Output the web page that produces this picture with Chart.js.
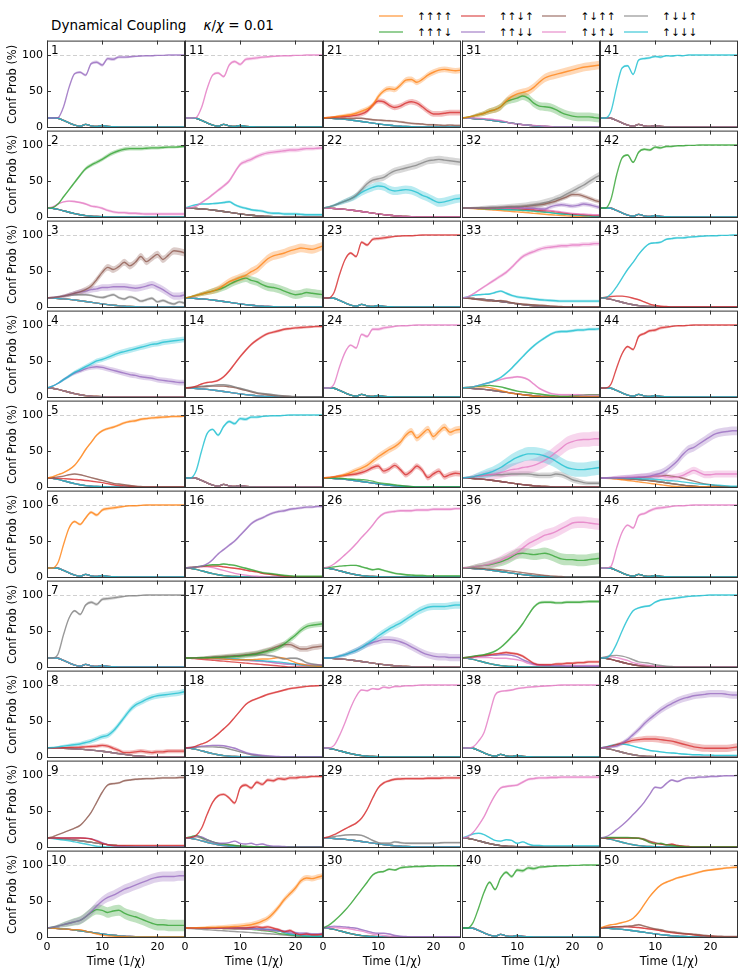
<!DOCTYPE html>
<html>
<head>
<meta charset="utf-8">
<script src="https://cdn.jsdelivr.net/npm/chart.js@4.4.1/dist/chart.umd.min.js"></script>
<style>
  body { margin: 0; background: #fff; }
  #page { position: relative; width: 747px; height: 978px; overflow: hidden; font-family: 'DejaVu Sans', sans-serif; }
  #page canvas { position: absolute; }
  #title { position: absolute; left: 51px; top: 17px; font-size: 13.5px; line-height: 16px; white-space: pre; color: #000; }
  .lg-line { position: absolute; width: 24px; height: 2px; }
  .lg-text { position: absolute; font-size: 10.5px; line-height: 14px; color: #000; }
</style>
</head>
<body>
<div id="page">
  <div id="title">Dynamical Coupling    <i>κ</i>/<i>χ</i> = 0.01</div>
</div>
<script>
// time grid (1/chi) and configuration labels
const times = [0,1,2,3,4,5,6,7,8,9,10,11,12,13,14,15,16,17,18,19,20,21,22,23,24,25];
const seriesLabels = ['↑↑↑↑','↑↑↑↓','↑↑↓↑','↑↑↓↓','↑↓↑↑','↑↓↑↓','↑↓↓↑','↑↓↓↓'];
const seriesColors = ['#ff7f0e','#2ca02c','#d62728','#9467bd','#8c564b','#e377c2','#7f7f7f','#17becf'];
const xTicks = [0, 10, 20];
const yTicks = [0, 50, 100];

// typical background decays
const decayWavy  = [12.5,12.5,12,9,5.5,2.5,1,3.5,1.5,0.5,2,0.5,0.3,0,0,0,0,0,0,0,0,0,0,0,0,0];
const decayQuick = [12.5,12,10.5,8.5,6.5,4.5,3,1.8,1,0.5,0.2,0,0,0,0,0,0,0,0,0,0,0,0,0,0,0];
const decayMid   = [12.5,12.2,11.8,11.2,10.5,9.6,8.6,7.5,6.4,5.3,4.2,3.2,2.3,1.5,0.9,0.5,0.2,0,0,0,0,0,0,0,0,0];
const decaySlow  = [12.5,12.4,12.2,12,11.7,11.3,10.8,10.2,9.5,8.7,7.8,6.8,5.7,4.6,3.5,2.5,1.6,0.9,0.4,0.1,0,0,0,0,0,0];
// how the shaded spread grows with time (fraction of each curve's final spread)
const bandRamp = [0,0.15,0.3,0.45,0.55,0.65,0.72,0.78,0.83,0.87,0.9,0.92,0.94,0.95,0.96,0.97,0.98,0.98,0.99,0.99,1,1,1,1,1,1];

// per panel: [series index, spread, values]; other series follow `rest`
const panel01 = { rest: decayWavy, curves: [
  [3, 2.5, [12.5,12.5,13,28,55,74,76,72,88,90,86,95,94,97,97,97.5,98,98.5,99,99,99.5,99.5,100,100,100,100]] ] };
const panel02 = { rest: decayQuick, curves: [
  [1, 3, [12.5,13,18,28,38,48,58,67,72,76,80,85,89,92,94,95,95,95,95.5,96,96,96.5,97,97,97.5,98]],
  [5, 2, [12.5,14,18,21,22,21.5,20,18,15,14,12,9,7,6,6,5,5,4.5,4,4,4,4,4,4,4,4]] ] };
const panel03 = { rest: decayMid, curves: [
  [4, 5, [12.5,13,14,15,17,19,21,24,29,38,48,55,52,56,62,57,62,70,63,68,73,66,72,78,77,75]],
  [3, 5, [12.5,13,14,15,17,19,21,22,24,25,27,27,28,28,28,27,26,27,29,31,28,24,19,15,15,17]],
  [6, 2, [12.5,13,14,15,16,17,17,17,16,14,13,15,17,13,11,14,12,8,10,12,7,9,6,4,7,5]] ] };
const panel04 = { rest: decayQuick, curves: [
  [7, 4, [12.5,15,19,24,29,34,38,42,46,50,52,55,58,61,63,65,67,69,71,73,74,76,77,78,79,80]],
  [3, 4, [12.5,15,19,24,29,33,36,39,41,42,41,39,37,35,33,31,30,28,27,26,24,23,22,21,20,20]] ] };
const panel05 = { rest: decayQuick, curves: [
  [0, 2, [12.5,14,17,20,24,30,40,52,62,72,78,81,83,86,89,91,92,94,95,96,96.5,97,97.5,98,98,98.5]],
  [4, 1, [12.5,13,14,15,17,18,17,15,13,11,9,7,5,4,3,2,1,0.5,0,0,0,0,0,0,0,0]],
  [2, 0.5, [12.5,12.5,12,11.5,11,10.5,10,9,8,7,6,4.5,3,2,1.5,1,0.5,0,0,0,0,0,0,0,0,0]] ] };
const panel06 = { rest: decayWavy, curves: [
  [0, 2.5, [12.5,12.5,20,45,68,77,73,82,90,86,93,95,96,97,98,99,99,99.5,100,100,100,100,100,100,100,100]] ] };
const panel07 = { rest: decayWavy, curves: [
  [6, 2.5, [12.5,12.5,18,45,68,78,73,86,90,87,94,95,96,97,98,99,99,99.5,100,100,100,100,100,100,100,100]] ] };
const panel08 = { rest: decaySlow, curves: [
  [7, 4, [12.5,13,14,15,16,17,18,20,22,25,28,30,36,45,55,65,72,76,80,83,85,86,87,88,89,91]],
  [2, 3, [12.5,12.5,12.6,12.7,13,13,13.5,14,14.5,15,16,15,12,9,6,6,7,8,7,6,7,7,8,8,8,8]] ] };
const panel09 = { rest: decayMid, curves: [
  [4, 1.5, [12.5,14,17,20,23,26,30,38,48,62,76,86,88,89,92,93,94,94.5,95,95,95.5,96,96,96,96.5,96.5]],
  [2, 0.8, [12.5,12.5,12.5,12.5,12.5,12.5,12.5,12,11,8,5,3,2,2,2,2,2,2,2,2,2,2,2,2,2,2]],
  [3, 0.5, [12.5,12.5,12.5,12.5,12.5,12.5,12.5,12,11,9,6,3,1.5,1,0.5,0,0,0,0,0,0,0,0,0,0,0]],
  [7, 0, [12.5,11.5,10.5,9.5,8.5,7,5.5,4,2.5,1,0.5,0,0,0,0,0,0,0,0,0,0,0,0,0,0,0]] ] };
const panel10 = { rest: decayMid, curves: [
  [3, 7, [12.5,13.5,15,17,19,21,23,28,35,43,50,55,58,62,66,69,72,75,78,81,83,84,84,84,85,85]],
  [1, 8, [12.5,13.5,15,17,19,21,23,28,34,38,37,34,36,37,33,30,28,25,22,19,17,17,16,16,16,16]],
  [0, 0, [12.5,12,11.5,11,10.5,10,10,8,6,4,2.5,1.5,1,0.5,0.3,0,0,0,0,0,0,0,0,0,0,0]] ] };
const panel11 = { rest: decayWavy, curves: [
  [5, 2.5, [12.5,12.5,13,27,53,72,75,70,86,91,87,94,95,96,97,97.5,98,98.5,99,99,99.5,99.5,100,100,100,100]] ] };
const panel12 = { rest: decayMid, curves: [
  [5, 3, [12.5,13,15,20,25,31,37,43,50,62,73,77,80,84,87,89,90,91,92,93,93,94,95,95,95.5,96]],
  [7, 2, [12.5,15,17,18,18,18.5,19,20,21,17,14,12,10,9,8,6,5,5,4,4,4,3.5,3,3,3,3]] ] };
const panel13 = { rest: decayMid, curves: [
  [0, 6, [12.5,14,16,18,20,22,25,30,35,38,41,44,49,53,60,67,71,73,75,78,80,82,81,80,82,85]],
  [1, 6, [12.5,14,16,18,20,22,24,27,31,35,38,40,37,35,31,28,27,25,22,19,17,18,20,19,18,17]] ] };
const panel14 = { rest: decayMid, curves: [
  [2, 2, [12.5,13,15,18,20,21,23,28,36,46,56,65,73,79,84,88,90,92,94,95,96,96.5,97,97.5,98,98]],
  [6, 1, [12.5,13,14,15,15.5,16,17,17,16,14,12,10,8,6,5,4,3,2,1.5,1,0.5,0,0,0,0,0]],
  [4, 1, [12.5,13,13.5,14,14.5,15,15,15,14,13,11,9,7,5,4,3,2,1.5,1,0.5,0,0,0,0,0,0]] ] };
const panel15 = { rest: decayWavy, curves: [
  [7, 2.5, [12.5,12.5,22,50,74,80,72,84,91,88,95,94,97,97,98,98.5,99,99,99.5,100,100,100,100,100,100,100]] ] };
const panel16 = { rest: decayQuick, curves: [
  [3, 2, [12.5,13,14,15,18,24,32,38,44,50,58,66,74,79,82,86,89,91,92,94,95,96,97,97,98,98]],
  [1, 1.5, [12.5,13,14,15,16,17,17,18,17,16,14,12,10,8,6,5,4,3,2,1.5,1,1,1,1,1,1]],
  [2, 1, [12.5,13,14,14.5,15,15,15,14,13,12,11,9.5,8,7,5,4,3,2,1,0.5,0,0,0,0,0,0]],
  [5, 0.5, [12.5,13,13.5,14,14,13,11,9,7,5,3.5,2.5,1.5,1,0.5,0,0,0,0,0,0,0,0,0,0,0]] ] };
const panel17 = { rest: null, curves: [
  [1, 4, [12.5,12.5,12.6,12.7,12.8,13,13.2,13.5,14,14.5,15,16,17,18,20,22,24,27,32,38,44,51,56,58,59,60]],
  [4, 4, [12.5,12.5,12.6,12.8,13,13.5,14,14.5,15,15.5,16,17,18,19,21,23,26,29,31,31,28,25,25,27,28,29]],
  [6, 1.5, [12.5,12.5,12.6,12.8,13,13.2,13.5,14,14.5,15,15.5,16,16.5,17,17,16,15,13,11,12,12,10,6,4,3,2]],
  [0, 0, [12.5,12.4,12.3,12.2,12,11.8,11.5,11,10.5,10,10,10,10,10.5,11,11,12,13,12,9,6,4,2.5,1.5,1,0.5]],
  [7, 0, [12.5,12.5,12.4,12.3,12.2,12,11.8,11.5,11.2,11,10.5,10,9.5,9,8.5,8,7.5,7,6,5,4,3,2,1.5,1,1]],
  [5, 0, [12.5,12.4,12.2,12,11.8,11.5,11.2,11,10.5,10,9.5,9,8.5,8,7.5,7,6,5.5,5,4.5,4,3.5,3,3,3,3]],
  [3, 0, [12.5,12.4,12.3,12.2,12,11.8,11.5,11.2,11,10.5,10,9.5,9,8.5,8,7,6,5,4,3.5,3,2.5,2,2,2,2]],
  [2, 0, [12.5,12,11.3,10.6,10,9.3,8.6,8,7.3,6.6,6,5.3,4.6,4,3.3,2.6,2,1.3,0.6,0,0,0,0,0,0,0]] ] };
const panel18 = { rest: decayQuick, curves: [
  [2, 1.5, [12.5,13,15,18,21,26,32,39,46,55,64,73,78,81,84,87,89,91,93,95,96,97,98,98.5,99,99.5]],
  [3, 1.5, [12.5,13,14,15,15.5,16,16,15.5,14,12,9,6,4,3,2,1.5,1,0.5,0,0,0,0,0,0,0,0]],
  [6, 1, [12.5,13,13.5,14,14,14,13.5,13,11,9,7,5,3,2,1,0.5,0,0,0,0,0,0,0,0,0,0]] ] };
const panel19 = { rest: decayQuick, curves: [
  [2, 2.5, [12.5,13,16,26,45,62,71,73,68,61,82,86,82,90,87,93,92,95,94,96,96,97,97,98,98,98]],
  [3, 1, [12.5,13,15,14,10,7,5,5,6,8,5,4,5,3,4,2,1,1,0.5,0,0,0,0,0,0,0]],
  [1, 0, [12.5,14,16,13,10,7,5,4,3,2,1.5,1,0.5,0,0,0,0,0,0,0,0,0,0,0,0,0]],
  [6, 0, [12.5,13.5,14,12,9,7,5,4,3,2,1,0.5,0,0,0,0,0,0,0,0,0,0,0,0,0,0]] ] };
const panel20 = { rest: null, curves: [
  [0, 4, [12.5,12.6,12.7,12.8,13,13.2,13.4,13.6,14,14.4,15,16,17,19,22,26,33,42,52,60,68,78,82,81,83,85]],
  [2, 2, [12.5,12.5,12.5,12.5,12.5,12.5,12.5,12.5,12.5,12.5,12.5,12.5,13,14,13,14,12,10,7,9,5,3,4,3,3,4]],
  [3, 1.5, [12.5,12.5,12.5,12.5,12.5,12.5,12.5,12.5,12.5,12.5,12.5,12,12,11.5,11,10.5,10,9,8,7,6,5,5,4,4,5]],
  [7, 0, [12.5,12.5,12.5,12.5,12.5,12.5,12.5,12.5,12.5,12.3,12.2,12,11.8,11.5,11,10.5,9.5,8,6,4,3,2,1.5,1,1,1]],
  [5, 0, [12.5,12.5,12.4,12.3,12.2,12.1,12,12,11.8,11.6,11.4,11.2,11,10.5,10,9.5,9,8,7,5,4,3,3,3,3,3]],
  [4, 0, [12.5,12.5,12.4,12.3,12.2,12.1,12,11.8,11.6,11.4,11.2,11,10.8,10.5,10,9.5,9,8,7,5,4,3,3,2.5,2.5,2.5]],
  [1, 0, [12.5,12.5,12.4,12.3,12.2,12.1,12,11.8,11.6,11.4,11.2,11,10.5,10,9,8,7,5,4,3,2,1.5,1,1,1,1]],
  [6, 0, [12.5,11.5,11,10.5,10,9.5,9,8.5,8,7.5,7,6.5,6,5.5,5,4.5,4,3.3,2.6,1.9,1.2,0.6,0,0,0,0]] ] };
const panel21 = { rest: decayMid, curves: [
  [0, 4, [12.5,13,14,15,16,17,19,22,25,30,42,50,53,52,58,65,66,62,66,72,76,79,80,79,78,79]],
  [2, 4, [12.5,13,13.5,14,14.5,15,16,18,22,30,36,35,30,27,29,33,35,33,28,22,18,18,19,20,20,20]],
  [4, 1.5, [12.5,12.4,12.3,12.2,12,11.8,12,12,11,10,9.5,9,8.5,8,7,6,5,4.5,4,3,3,2.5,2,2.5,2,2]] ] };
const panel22 = { rest: decayMid, curves: [
  [6, 5, [12.5,14,16,19,22,25,30,38,46,51,53,55,60,64,66,68,70,72,75,78,79,80,79,78,77,76]],
  [7, 6, [12.5,14,16,19,22,25,29,34,38,41,43,42,38,36,37,38,37,34,30,27,23,20,21,23,25,26]] ] };
const panel23 = { rest: decayWavy, curves: [
  [2, 2.5, [12.5,12.5,20,45,66,75,70,90,86,94,95,96,97,98,98.5,99,99,99.5,100,100,100,100,100,100,100,100]] ] };
const panel24 = { rest: decayWavy, curves: [
  [5, 2.5, [12.5,12.5,18,42,62,72,68,87,84,94,94,96,97,98,99,99,99.5,100,100,100,100,100,100,100,100,100]] ] };
const panel25 = { rest: decayMid, curves: [
  [0, 5, [12.5,13,14,15,17,20,23,26,30,36,42,47,52,56,62,72,77,68,74,80,70,77,83,76,79,80]],
  [2, 4, [12.5,13,14,15,16,17,18,20,23,27,29,22,25,30,24,17,22,29,23,13,18,22,14,17,19,18]],
  [1, 0, [12.5,12.5,12.5,12,11.5,11,10.5,10,9.5,8,6,5,4,3,2,1,0.5,0,0,0,0,0,0,0,0,0]] ] };
const panel26 = { rest: decayQuick, curves: [
  [5, 2, [12.5,14,18,24,31,38,46,55,63,72,82,88,90,91,92,92,92,93,93,93,94,94,94,94,95,95]],
  [1, 1.5, [12.5,13,14,15,15.5,16,16,14,12,10,11,9,7,5,4,3,2.5,2,2,1.5,1.5,1.5,1.5,1.5,1.5,1.5]] ] };
const panel27 = { rest: decayMid, curves: [
  [7, 5, [12.5,12.5,13,15,17,20,23,27,32,37,43,48,53,57,61,66,71,76,80,83,84,84,84,85,86,86]],
  [3, 5, [12.5,12.5,13,15,17,20,23,27,31,34,36,38,38,37,35,32,28,24,20,17,15,14,14,13,13,13]] ] };
const panel28 = { rest: decayQuick, curves: [
  [5, 1.5, [12.5,12.5,16,30,48,68,84,93,92,95,94,97,96,98,98,99,99,99.5,100,100,100,100,100,100,100,100]] ] };
const panel29 = { rest: decayMid, curves: [
  [2, 2, [12.5,14,17,21,25,29,33,40,52,68,82,89,92,94,94.5,95,95,95,95,95.5,95.5,95.5,96,96,96,96]],
  [6, 1.5, [12.5,13.5,14.5,15.5,16.5,17,17,16,13,9,6,5,5,7,6,5,5,5,5,5,5,5.5,6,6,6,6]] ] };
const panel30 = { rest: decayQuick, curves: [
  [1, 1.5, [12.5,16,22,29,37,46,56,66,76,86,90,91,94,93,96,97,97.5,98,98,98.5,98.5,99,99,99,99,99]],
  [3, 1, [12.5,14,15,14.5,14,13,12,10,8,6,5,5,4,2,1,0.5,0,0,0,0,0,0,0,0,0,0]],
  [5, 0, [12.5,13,13,12.5,12,11,9.5,8,6,4,3,2,1,0.5,0,0,0,0,0,0,0,0,0,0,0,0]] ] };
const panel31 = { rest: decayMid, curves: [
  [0, 6, [12.5,13.5,15,17,19,22,24,28,36,42,46,48,50,55,62,68,71,73,75,77,79,81,83,84,85,86]],
  [1, 6, [12.5,13.5,15,17,19,22,24,28,35,38,40,43,40,33,29,28,27,24,20,17,15,14,14,14,13,12]],
  [5, 1, [12.5,12.5,12.3,12,11.5,11,10,9,7,5,4,3,2.5,2,1.5,1,0.5,0,0,0,0,0,0,0,0,0]] ] };
const panel32 = { rest: null, curves: [
  [6, 5, [12.5,12.5,12.6,12.7,12.8,13,13,13.2,13.5,14,14.5,15,16,17,18,20,22,25,28,32,36,40,44,49,54,58]],
  [4, 3, [12.5,12.5,12.5,12.5,12.5,12.6,12.8,13,13.5,14,14,14.5,15,16,17,18,20,22,25,28,31,31,29,26,23,21]],
  [3, 3, [12.5,12.5,12.5,12.5,12.5,12.5,12.6,12.8,13,13,13,12.5,12,12,11,11,14,16,17,16,15,16,18,17,15,13]],
  [5, 0, [12.5,12.5,12.5,12.5,12.5,12.5,12.5,12.5,12.5,12.5,12.5,12,12,11.5,11,10,9,8,7,6,5,4.5,4,3.5,3,3]],
  [2, 0, [12.5,12.5,12.5,12.5,12.4,12.3,12.2,12,12,11.8,11.5,11,10.5,10,9,8.5,8,7,6,5,4,3.5,3,2.5,2,2]],
  [7, 0, [12.5,12.4,12.2,12,11.8,11.5,11.2,11,10.5,10,9.8,9.5,9,8.5,8,7,6,5,4.5,4,3,2.5,2,1.5,1,1]],
  [1, 0, [12.5,12.3,12,11.8,11.5,11.2,11,10.5,10,9.8,9.5,9,8.5,8,7,6.5,6,5,4,3.5,3,2.5,2,1.5,1,1]],
  [0, 0, [12.5,12,11.5,11,10.5,10,9.5,8.8,8,7.5,7,6.5,5.8,5,4.5,3.8,3,2.5,2,1.5,1,0.5,0.2,0,0,0]] ] };
const panel33 = { rest: decayMid, curves: [
  [5, 3, [12.5,14,18,23,28,33,38,43,48,55,63,70,74,77,80,82,83,84,85,85,86,86,87,87,88,88]],
  [7, 2, [12.5,14,16,17,17.5,18,20,22,19,16,14,13,12,11,10,9.5,9,8.5,8,8,8,8,8,8,8,8]],
  [4, 1, [12.5,12,11,10,9,8,8,9,8,6,5,4,3.5,3,2.5,2,1.5,1,0.5,0,0,0,0,0,0,0]] ] };
const panel34 = { rest: decayMid, curves: [
  [7, 2, [12.5,13,14,16,18,20,23,27,33,40,48,56,64,71,77,82,87,90,91,91,92,93,93,94,94,95]],
  [5, 1.5, [12.5,13,14,16,18,20,22,24,26,27,28,27,24,18,12,8,5,3.5,3,3,3,3,2.5,2.5,2.5,2.5]],
  [1, 1, [12.5,13,14,15,15.5,16,15,14,12,10,8,7,6,5,4,3,2,1.5,1,1,1.5,2,2.5,3,3,3]],
  [0, 0, [12.5,13,14,14,14,13,11,9,7,5,4,3,2,1,0.5,0,0,0,0,0,0,0,0,0,0,0]] ] };
const panel35 = { rest: decayMid, curves: [
  [7, 10, [12.5,13,14,16,18,20,23,27,32,37,41,44,46,46,45,43,40,36,31,27,25,24,24,25,26,27]],
  [5, 10, [12.5,13,14,15,16,17,18,20,22,24,25,27,28,30,33,37,42,48,54,60,63,65,66,66,67,67]],
  [6, 4, [12.5,13,14,15,16,17,17,17,17.5,18,18,18,18,17,16,16,16,18,17,14,10,8,6,5,5,5]] ] };
const panel36 = { rest: decayMid, curves: [
  [5, 8, [12.5,13,14,15,16,18,20,23,27,30,34,40,46,50,54,58,60,63,67,71,75,76,76,75,74,73]],
  [1, 8, [12.5,13,14,15,16,17,19,21,24,28,32,33,32,31,32,33,31,28,25,24,24,23,23,24,25,26]],
  [4, 0, [12.5,12.5,12.3,12,11.5,11,10.5,10,9,8,7,6,5,4,3,2,1.5,1,0.5,0,0,0,0,0,0,0]] ] };
const panel37 = { rest: decayQuick, curves: [
  [1, 2, [12.5,13.5,15,16,17,19,22,27,34,42,50,60,72,83,89,90,90,89,89,90,90,90,90.5,91,91,91]],
  [2, 2, [12.5,13,14,15,16,17,18,19,20,19,18,15,10,5,3,3,3,4,4,5,5,6,6,7,7,7]],
  [3, 1, [12.5,13,14,15,15,16,16,17,17,16,14,10,7,4,3,2,2,1.5,1.5,1,1,1,1,1,1,1]],
  [5, 0, [12.5,13,13,13,13,13,12,12,12,11,10,8,5,3,2,2,2,2,2,2,2,2,2,2,2,2]] ] };
const panel38 = { rest: decayWavy, curves: [
  [5, 1.5, [12.5,12.5,14,22,34,60,86,91,92,93,95,96,97,97.5,98,98.5,99,99.5,100,100,100,100,100,100,100,100]] ] };
const panel39 = { rest: decayQuick, curves: [
  [5, 2, [12.5,14,20,30,42,58,72,82,84,85,86,90,94,95,96,96,96.5,96.5,97,97,97,97,97,97,97,97]],
  [7, 1, [12.5,15,18,19,17,13,9,8,10,9,5,7,4,2,2,1.5,1.5,1.5,1.5,1.5,1.5,1.5,1.5,1.5,1.5,1.5]] ] };
const panel40 = { rest: decayWavy, curves: [
  [1, 2.5, [12.5,12.5,20,40,62,76,66,82,90,84,93,92,96,95,97,97.5,98,98.5,99,99,99.5,99.5,100,100,100,100]] ] };
const panel41 = { rest: decayWavy, curves: [
  [7, 2, [12.5,12.5,22,55,82,85,73,93,95,96,98,97,99,98.5,99.5,99,100,100,100,100,100,100,100,100,100,100]] ] };
const panel42 = { rest: decayWavy, curves: [
  [1, 2, [12.5,12.5,25,58,82,86,76,90,94,93,97,96,98,98,99,99,99.5,99.5,100,100,100,100,100,100,100,100]] ] };
const panel43 = { rest: decayQuick, curves: [
  [7, 1.5, [12.5,13,18,28,40,52,62,73,82,88,89,90,94,95,96,96,97,97.5,98,98.5,99,99,99.5,99.5,100,100]],
  [2, 1, [12.5,13.5,14.5,15,15,14,12,10,7,4,2,1,0.5,0,0,0,0,0,0,0,0,0,0,0,0,0]] ] };
const panel44 = { rest: decayWavy, curves: [
  [2, 2.5, [12.5,12.5,18,40,60,70,66,84,88,92,93,96,97,98,99,99,99.5,100,100,100,100,100,100,100,100,100]] ] };
const panel45 = { rest: decaySlow, curves: [
  [3, 6, [12.5,12.5,12.6,12.7,12.8,13,13,13.5,14,15,17,19,23,29,36,45,52,55,60,65,70,74,76,77,78,78]],
  [5, 5, [12.5,12.5,12.6,12.8,13,13,13.5,14,14,14.5,15,15,14,13,14,16,20,23,20,17,17,18,18,18,18,18]],
  [7, 0, [12.5,12.5,12.5,12.4,12.3,12,12,11.5,11,11,10.5,10,9,8.5,8,7,6,5,4,3.5,3,2.5,2,1.5,1,1]],
  [4, 0, [12.5,12.5,12.5,12.5,12.5,12.5,12.8,13,13.5,14,15,15,16,15,14,12,10,8,6,4,3,2,1,0.5,0,0]],
  [0, 0, [12.5,12,11.5,11,10,9,8,7,6,5,4,3,2,1,0.5,0,0,0,0,0,0,0,0,0,0,0]] ] };
const panel46 = { rest: decayWavy, curves: [
  [5, 2.5, [12.5,12.5,15,40,62,72,68,85,88,92,95,96,97,98,99,99,99.5,100,100,100,100,100,100,100,100,100]] ] };
const panel47 = { rest: decayQuick, curves: [
  [7, 1.5, [12.5,12.5,18,32,50,66,78,82,84,85,90,93,94,95,96,97,98,98.5,99,99.5,100,100,100,100,100,100]],
  [6, 0, [12.5,14,15.5,16,15,13,10,7,6,5,3,2,1,0.5,0,0,0,0,0,0,0,0,0,0,0,0]],
  [5, 0, [12.5,13.5,14,13,11,9,6,4,3,2,1,0.5,0,0,0,0,0,0,0,0,0,0,0,0,0,0]] ] };
const panel48 = { rest: decayQuick, curves: [
  [3, 5, [12.5,13,14,15,19,24,31,38,46,53,59,65,70,74,78,81,83,85,86,87,88,88,88,87,86,86]],
  [2, 5, [12.5,13.5,15,17,19,21,23,24,25,25,25,24,23,22,20,18,16,14,13,12,12,12,12,12,13,14]],
  [7, 1, [12.5,14,16,17.5,18,17,15,13,11,9,8,7,6,5.5,5,4,3.5,3,3,2.5,2.5,2,2,2,2,2]] ] };
const panel49 = { rest: decayQuick, curves: [
  [3, 1.5, [12.5,14,18,24,30,37,45,53,62,73,83,82,88,93,91,94,96,96,97,97,98,98,98.5,99,99,99.5]],
  [1, 0, [12.5,13,13,13,13,13,12.5,12,10,6,4,5,3,2,1,0.5,0,0,0,0,0,0,0,0,0,0]],
  [2, 0, [12.5,12.5,12.5,12.5,12.5,12.5,12.5,12,10,7,5,4,3,4,2,1,0.5,0,0,0,0,0,0,0,0,0]],
  [4, 0, [12.5,12.5,12.5,12.5,12.5,12.5,12.5,12.3,11,8,6,4,3,3,2,1,0.5,0,0,0,0,0,0,0,0,0]] ] };
const panel50 = { rest: decayMid, curves: [
  [0, 1.5, [12.5,15,17,18,20,22,26,34,45,56,65,72,76,79,82,84,86,88,90,92,93,94,95,96,96.5,97]],
  [4, 1.5, [12.5,13,13.5,14,14.5,15,15.5,17,15,13,11,10,8,7,6,5,4,3.5,3,2,1.5,1,1,0.5,0.5,0.5]],
  [2, 1, [12.5,13,13.5,14,14,14,13.5,13,12,11,10,8.5,7,6,5,4.5,4,3,2,1.5,1,0.5,0,0,0,0]] ] };

const panels = [
  panel01, panel02, panel03, panel04, panel05, panel06, panel07, panel08, panel09, panel10,
  panel11, panel12, panel13, panel14, panel15, panel16, panel17, panel18, panel19, panel20,
  panel21, panel22, panel23, panel24, panel25, panel26, panel27, panel28, panel29, panel30,
  panel31, panel32, panel33, panel34, panel35, panel36, panel37, panel38, panel39, panel40,
  panel41, panel42, panel43, panel44, panel45, panel46, panel47, panel48, panel49, panel50
];

const restOrder = [7, 6, 5, 4, 3, 2, 1, 0]; // cyan ends up on top
const FONT = 'DejaVu Sans';

function rgba(hex, a) {
  const n = parseInt(hex.slice(1), 16);
  return 'rgba(' + (n >> 16) + ',' + ((n >> 8) & 255) + ',' + (n & 255) + ',' + a + ')';
}

function pts(vals) {
  return times.map((t, i) => ({ x: t, y: vals[i] }));
}

function lineSet(s, vals) {
  return {
    data: pts(vals),
    borderColor: rgba(seriesColors[s], 0.75),
    borderWidth: 1.4,
    pointRadius: 0,
    fill: false,
    cubicInterpolationMode: 'monotone'
  };
}

function edgeSet(vals, fill, color) {
  return {
    data: pts(vals),
    borderColor: 'transparent',
    borderWidth: 0,
    pointRadius: 0,
    fill: fill,
    backgroundColor: color || 'transparent',
    cubicInterpolationMode: 'monotone'
  };
}

function buildDatasets(panel) {
  const lines = [], bands = [];
  const given = new Set(panel.curves.map(c => c[0]));
  panel.curves.forEach(([s, w, vals]) => {
    lines.push(lineSet(s, vals));
    if (w > 0) {
      const hw = vals.map((v, i) => Math.min(w * bandRamp[i], (100 - v) * 0.5 + 0.3, v * 0.5 + 0.3));
      bands.push(edgeSet(vals.map((v, i) => v + hw[i]), false, null));
      bands.push(edgeSet(vals.map((v, i) => v - hw[i]), '-1', rgba(seriesColors[s], 0.3)));
    }
  });
  if (panel.rest) {
    restOrder.forEach(s => { if (!given.has(s)) lines.push(lineSet(s, panel.rest)); });
  }
  return lines.concat(bands);
}

function decorPlugin(label) {
  return {
    id: 'panelDecor',
    beforeDatasetsDraw(chart) {
      const { ctx, chartArea: ca, scales } = chart;
      const yy = Math.round(scales.y.getPixelForValue(100)) + 0.5;
      ctx.save();
      ctx.strokeStyle = '#cfcfcf';
      ctx.lineWidth = 1;
      ctx.setLineDash([4, 2.5]);
      ctx.beginPath();
      ctx.moveTo(ca.left, yy);
      ctx.lineTo(ca.right, yy);
      ctx.stroke();
      ctx.restore();
    },
    afterDatasetsDraw(chart) {
      const { ctx, chartArea: ca, scales } = chart;
      ctx.save();
      ctx.strokeStyle = '#333';
      ctx.lineWidth = 1;
      ctx.strokeRect(ca.left + 0.5, ca.top + 0.5, ca.right - ca.left - 1, ca.bottom - ca.top - 1);
      ctx.beginPath();
      xTicks.forEach(v => {
        const x = Math.round(scales.x.getPixelForValue(v)) + 0.5;
        ctx.moveTo(x, ca.bottom); ctx.lineTo(x, ca.bottom - 4);
        ctx.moveTo(x, ca.top); ctx.lineTo(x, ca.top + 4);
      });
      yTicks.forEach(v => {
        const y = Math.round(scales.y.getPixelForValue(v)) + 0.5;
        ctx.moveTo(ca.left, y); ctx.lineTo(ca.left + 4, y);
        ctx.moveTo(ca.right, y); ctx.lineTo(ca.right - 4, y);
      });
      ctx.stroke();
      ctx.fillStyle = '#000';
      ctx.font = '12px "' + FONT + '"';
      ctx.textBaseline = 'top';
      ctx.textAlign = 'left';
      ctx.fillText(label, ca.left + 4, ca.top + 4);
      ctx.restore();
    }
  };
}

const page = document.getElementById('page');

// legend
seriesLabels.forEach((label, s) => {
  const col = Math.floor(s / 2), row = s % 2;
  const x = 379 + col * 81.7, y = row ? 32 : 16;
  const ln = document.createElement('div');
  ln.className = 'lg-line';
  ln.style.left = x + 'px';
  ln.style.top = (y - 1) + 'px';
  ln.style.background = rgba(seriesColors[s], 0.5);
  page.appendChild(ln);
  const tx = document.createElement('div');
  tx.className = 'lg-text';
  tx.style.left = (x + 38) + 'px';
  tx.style.top = (y - 7) + 'px';
  tx.textContent = label;
  page.appendChild(tx);
});

// panels: 10 rows x 5 columns, numbered down each column
const PANEL_W = 138, PANEL_H = 90;
panels.forEach((panel, k) => {
  const col = Math.floor(k / 10), row = k % 10;
  const px = Math.round(46.7 + 138.3 * col);
  const py = 41 + PANEL_H * row;
  const isLeft = col === 0, isBottom = row === 9;
  const cv = document.createElement('canvas');
  cv.width = 46 + PANEL_W + 4;
  cv.height = 8 + PANEL_H + 36;
  cv.style.left = (px - 46) + 'px';
  cv.style.top = (py - 8) + 'px';
  page.appendChild(cv);
  const chart = new Chart(cv, {
    type: 'line',
    data: { datasets: buildDatasets(panel) },
    options: {
      responsive: false,
      animation: false,
      events: [],
      layout: { padding: { left: 0, right: 4, top: 8, bottom: 0 } },
      plugins: { legend: { display: false }, tooltip: { enabled: false } },
      scales: {
        x: {
          type: 'linear', min: 0, max: 25,
          afterBuildTicks: a => { a.ticks = xTicks.map(v => ({ value: v })); },
          afterFit: a => { a.height = 36; },
          grid: { display: false, drawTicks: false },
          border: { display: false },
          ticks: { padding: 3, maxRotation: 0, color: isBottom ? '#000' : 'rgba(0,0,0,0)', font: { family: FONT, size: 11 } },
          title: { display: true, text: 'Time (1/χ)', color: isBottom ? '#000' : 'rgba(0,0,0,0)', font: { family: FONT, size: 11.5 }, padding: { top: 0, bottom: 5 } }
        },
        y: {
          type: 'linear', min: -1.5, max: 120,
          afterBuildTicks: a => { a.ticks = yTicks.map(v => ({ value: v })); },
          afterFit: a => { a.width = 46; },
          grid: { display: false, drawTicks: false },
          border: { display: false },
          ticks: { padding: 4, color: isLeft ? '#000' : 'rgba(0,0,0,0)', font: { family: FONT, size: 11 } },
          title: { display: true, text: 'Conf Prob (%)', color: isLeft ? '#000' : 'rgba(0,0,0,0)', font: { family: FONT, size: 11.5 }, padding: { top: 5, bottom: 0 } }
        }
      }
    },
    plugins: [decorPlugin(String(k + 1))]
  });
  // align the plotting area exactly on the panel grid
  const ca = chart.chartArea;
  cv.style.left = (px - ca.left) + 'px';
  cv.style.top = (py - ca.top) + 'px';
});
</script>
</body>
</html>
